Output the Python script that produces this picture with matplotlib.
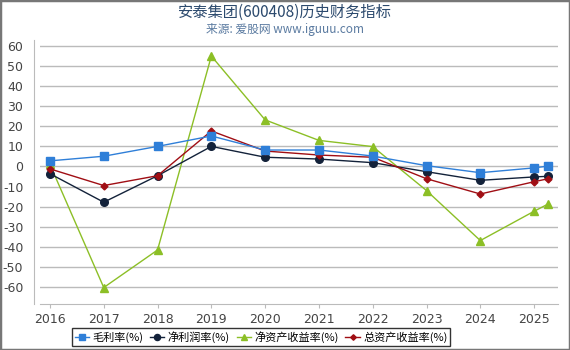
import matplotlib
matplotlib.use('Agg')
import matplotlib.pyplot as plt
from matplotlib.patches import Rectangle

plt.rcParams['font.family'] = ['DejaVu Sans', 'Noto Sans CJK SC']
plt.rcParams['axes.unicode_minus'] = False

# 报告期
x = [2016, 2017, 2018, 2019, 2020, 2021, 2022, 2023, 2024, 2025, 2025.26]
years = [2016, 2017, 2018, 2019, 2020, 2021, 2022, 2023, 2024, 2025]

gross_margin = [2.8, 5.1, 10.0, 15.2, 8.2, 8.2, 5.2, 0.4, -3.1, -0.7, 0.2]
net_margin = [-3.6, -17.8, -4.6, 10.0, 4.6, 3.7, 1.9, -2.6, -6.9, -5.2, -4.9]
roe = [1.0, -60.3, -41.6, 55.0, 23.2, 13.0, 9.9, -12.0, -36.9, -22.3, -18.7]
roa = [-1.2, -9.5, -4.6, 17.7, 7.7, 5.7, 4.6, -6.1, -13.7, -7.6, -6.1]

fig = plt.figure(figsize=(5.7, 3.5), dpi=100)
ax = fig.add_axes([40 / 570, 46 / 350, 518 / 570, 264 / 350])

ax.plot(x, gross_margin, color='#2f7fd8', lw=1, marker='s', ms=5.5, label='毛利率(%)', zorder=4)
ax.plot(x, net_margin, color='#13223a', lw=1, marker='o', ms=5.5, label='净利润率(%)', zorder=3)
ax.plot(x, roe, color='#8cbf26', lw=1, marker='^', ms=5.5, label='净资产收益率(%)', zorder=2)
ax.plot(x, roa, color='#a00e14', lw=1, marker='D', ms=3.5, label='总资产收益率(%)', zorder=3)

ax.set_xlim(2015.815, 2025.444)
ax.set_ylim(-68.5, 63)
ax.set_yticks(range(-60, 61, 10))
ax.set_xticks(years)
ax.set_xticklabels([str(y) for y in years])
ax.grid(axis='y', color='#bbbbbb', lw=1)
ax.set_axisbelow(True)

for s in ['top', 'right']:
    ax.spines[s].set_visible(False)
ax.spines['left'].set_position(('outward', 4))
ax.spines['left'].set_color('#bbbbbb')
ax.spines['bottom'].set_color('#bbbbbb')
ax.tick_params(axis='y', length=0, pad=8, labelsize=9, labelcolor='#444444')
ax.tick_params(axis='x', length=3, color='#bbbbbb', labelsize=9, labelcolor='#444444')

fig.text(0.5, 1 - 12 / 350, '安泰集团(600408)历史财务指标', ha='center', va='center',
         fontsize=11, color='#2c4a6e', family=['Noto Sans CJK SC', 'DejaVu Sans'])
fig.text(0.5, 1 - 29 / 350, '来源: 爱股网 www.iguuu.com', ha='center', va='center',
         fontsize=8.5, color='#5a7aa0', family=['Noto Sans CJK SC', 'DejaVu Sans'])

leg = fig.legend(loc='center', bbox_to_anchor=(261 / 570, 13 / 350), ncol=4,
                 prop={'family': 'Noto Sans CJK SC', 'size': 8},
                 frameon=True, fancybox=False, edgecolor='black', handlelength=1.3,
                 handletextpad=0.3, columnspacing=0.6, borderpad=0.25, markerscale=0.8)
leg.get_frame().set_linewidth(1)

# 外框
fig.patches.append(Rectangle((0, 0), 1, 1, transform=fig.transFigure, fill=False,
                             edgecolor='#777777', lw=2.5))

fig.savefig('out.png', dpi=100)
